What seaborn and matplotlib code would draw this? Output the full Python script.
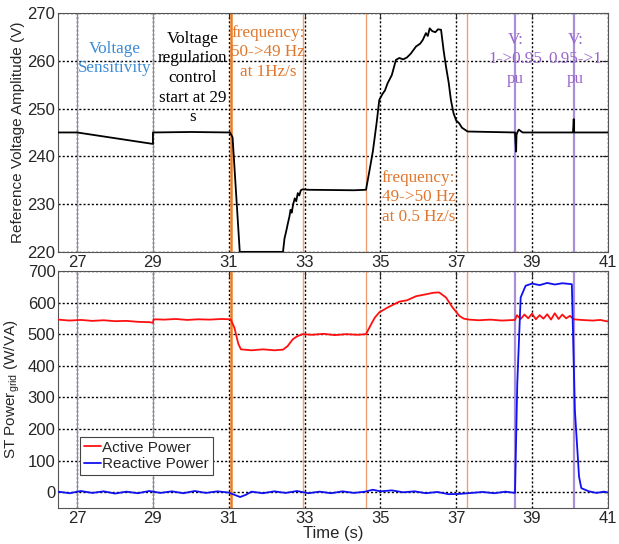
import pandas as pd
import matplotlib
matplotlib.use("Agg")
import matplotlib.pyplot as plt
import seaborn as sns

# Reference voltage amplitude (V)
volt_time = [26.5, 27.0, 28.0, 29.0, 29.0, 30.0, 31.03, 31.1, 31.29, 32.43, 32.47, 32.52, 32.56, 32.6,
             32.63, 32.66, 32.7, 32.74, 32.78, 32.82, 32.86, 32.9, 32.95, 33.1, 34.3, 34.62, 34.7, 34.8,
             34.9, 34.97, 35.05, 35.12, 35.19, 35.3, 35.41, 35.5, 35.6, 35.7, 35.8, 35.94, 36.05, 36.12,
             36.2, 36.25, 36.3, 36.37, 36.45, 36.52, 36.6, 36.67, 36.73, 36.8, 36.86, 36.93, 37.0, 37.08,
             37.15, 37.3, 38.55, 38.58, 38.59, 38.61, 38.65, 38.7, 38.75, 40.08, 40.1, 40.11, 40.13, 41.0]
volt_value = [245.0, 245.0, 243.8, 242.6, 245.0, 245.1, 245.0, 244.0, 220.0, 220.0, 222.8, 224.5, 226.0, 227.4,
              228.8, 228.2, 230.0, 231.2, 230.6, 232.3, 231.8, 232.9, 233.1, 233.0, 232.9, 233.0, 236.5, 241.0,
              247.0, 251.8, 253.0, 253.8, 255.3, 257.0, 260.2, 260.6, 260.3, 260.7, 261.5, 263.0, 263.6, 264.4,
              265.8, 265.2, 266.8, 266.2, 266.0, 266.6, 266.5, 262.0, 258.8, 255.5, 251.8, 249.0, 247.5, 246.9,
              246.0, 245.2, 245.0, 241.0, 244.5, 245.0, 245.6, 245.3, 245.0, 245.0, 247.8, 245.0, 245.0, 245.0]

# Active power (W)
p_time = [26.5, 26.8, 27.1, 27.4, 27.7, 28.0, 28.3, 28.6, 28.9, 29.0, 29.02, 29.3, 29.6, 29.9, 30.2, 30.5,
          30.8, 31.05, 31.15, 31.25, 31.32, 31.6, 31.9, 32.2, 32.43, 32.55, 32.69, 32.8, 32.95, 33.2, 33.5,
          33.8, 34.1, 34.4, 34.62, 34.75, 34.85, 34.97, 35.2, 35.5, 35.7, 35.94, 36.2, 36.4, 36.55, 36.73,
          36.9, 37.08, 37.2, 37.34, 37.6, 37.9, 38.2, 38.55, 38.6, 38.7, 38.8, 38.9, 39.0, 39.1, 39.2, 39.3,
          39.4, 39.5, 39.6, 39.7, 39.8, 39.9, 40.0, 40.1, 40.3, 40.6, 40.8, 41.0]
p_value = [546, 543, 545, 542, 544, 541, 542, 539, 538, 536, 547, 546, 548, 545, 547, 546,
           548, 547, 520, 470, 452, 449, 452, 449, 451, 462, 484, 493, 500, 498, 501,
           497, 500, 498, 500, 530, 552, 569, 585, 603, 607, 620, 626, 631, 632, 616,
           585, 558, 549, 546, 544, 546, 543, 545, 560, 548, 562, 550, 565, 547, 560, 549,
           563, 546, 566, 548, 562, 550, 558, 547, 545, 543, 545, 540]

# Reactive power (VA)
q_time = [26.5, 26.8, 27.1, 27.4, 27.7, 28.0, 28.3, 28.6, 28.9, 29.2, 29.5, 29.8, 30.1, 30.4, 30.7, 31.0,
          31.15, 31.3, 31.45, 31.6, 31.9, 32.2, 32.5, 32.8, 33.1, 33.4, 33.7, 34.0, 34.3, 34.6, 34.8,
          35.0, 35.3, 35.6, 35.9, 36.2, 36.5, 36.8, 37.1, 37.4, 37.7, 38.0, 38.3, 38.55, 38.61, 38.7,
          38.83, 39.0, 39.2, 39.4, 39.6, 39.8, 40.05, 40.13, 40.24, 40.3, 40.5, 40.7, 40.9, 41.0]
q_value = [2, -3, 4, -2, 3, -4, 2, -3, 4, -2, 3, -3, 4, -2, 3, -1,
           -8, -15, -8, 2, -3, 3, -2, 4, -3, 2, -3, 3, -2, 2, 8,
           3, 6, 0, 3, -3, 1, -6, -5, -2, 1, -3, 2, -2, 343, 616,
           653, 660, 655, 662, 657, 661, 658, 259, 49, 13, 3, -2, 2, -1]

x_ticks = [27, 29, 31, 33, 35, 37, 39, 41]
volt_ticks = [220, 230, 240, 250, 260, 270]
pow_ticks = [0, 100, 200, 300, 400, 500, 600, 700]

# event markers: (time, colour, width)
events = [(27.0, "#6f8fd2", 0.8), (29.0, "#6f8fd2", 0.8),
          (31.05, "#f07a20", 1.8), (32.97, "#f0a070", 1.0),
          (34.62, "#f0a070", 1.0), (37.28, "#f0a070", 1.0),
          (38.55, "#a890d8", 1.6), (40.1, "#a890d8", 1.6)]

sns.set_style("white")
plt.rcParams["font.family"] = ["Liberation Sans", "DejaVu Sans"]
plt.rcParams["mathtext.default"] = "regular"

volt_df = pd.DataFrame({"t": volt_time, "v": volt_value})
pow_df = pd.concat([
    pd.DataFrame({"t": p_time, "val": p_value, "kind": "Active Power"}),
    pd.DataFrame({"t": q_time, "val": q_value, "kind": "Reactive Power"}),
])

fig = plt.figure(figsize=(6.19, 5.44), dpi=100)
ax1 = fig.add_axes([0.094, 0.537, 0.888, 0.439])
ax2 = fig.add_axes([0.094, 0.066, 0.888, 0.436])

grid_kw = dict(color="black", linestyle=(0, (1.5, 1.5)), linewidth=1.0, zorder=1.2)

# top panel
sns.lineplot(data=volt_df, x="t", y="v", ax=ax1, color="black", linewidth=1.3,
             estimator=None, sort=False, zorder=3)
ax1.set_ylim(220, 270)
ax1.set_yticks(volt_ticks)
ax1.set_xlabel("")
ax1.set_ylabel("Reference Voltage Amplitude (V)", fontsize=11, labelpad=2)

serif = ["Liberation Serif", "DejaVu Serif"]
ax1.text(28.0, 260.5, "Voltage\nSensitivity", color="#3a8ad6", fontsize=12.3,
         family=serif, ha="center", va="center", linespacing=1.3)
ax1.text(30.05, 256.4, "Voltage\nregulation\ncontrol\nstart at 29\ns", color="black",
         fontsize=12.3, family=serif, ha="center", va="center", linespacing=1.3)
ax1.text(32.03, 261.8, "frequency:\n50->49 Hz\nat 1Hz/s", color="#e0762c", fontsize=12.3,
         family=serif, ha="center", va="center", linespacing=1.3)
ax1.text(35.04, 231.4, "frequency:\n49->50 Hz\nat 0.5 Hz/s", color="#e0762c", fontsize=12.3,
         family=serif, ha="left", va="center", linespacing=1.3)
ax1.text(38.57, 260.3, "V:\n1->0.95\npu", color="#9966cc", fontsize=12.3,
         family=serif, ha="center", va="center", linespacing=1.3)
ax1.text(40.15, 260.3, "V:\n0.95->1\npu", color="#9966cc", fontsize=12.3,
         family=serif, ha="center", va="center", linespacing=1.3)

# bottom panel
sns.lineplot(data=pow_df, x="t", y="val", hue="kind", ax=ax2,
             palette={"Active Power": "#ff1010", "Reactive Power": "#1010f0"},
             linewidth=1.3, estimator=None, sort=False, zorder=3)
ax2.set_ylim(-50, 700)
ax2.set_yticks(pow_ticks)
ax2.set_xlabel("Time (s)", fontsize=12, labelpad=0)
ax2.set_ylabel("ST Power$_{grid}$ (W/VA)", fontsize=11, labelpad=4)
leg = ax2.legend(loc="lower left", bbox_to_anchor=(0.04, 0.14), fontsize=11,
                 handlelength=1.1, handletextpad=0.1, borderpad=0.25, labelspacing=0.15,
                 fancybox=False, framealpha=1, borderaxespad=0)
leg.get_frame().set_edgecolor("#444444")
leg.get_frame().set_linewidth(0.8)
leg.set_zorder(5)

for ax in (ax1, ax2):
    ax.set_xlim(26.5, 41)
    ax.set_xticks(x_ticks)
    ax.tick_params(direction="in", labelsize=12, length=4, top=True, right=True, pad=2)
    ax.grid(True, **grid_kw)
    for t, c, w in events:
        ax.axvline(t, color=c, linewidth=w, zorder=1.5)
    for s in ax.spines.values():
        s.set_color("#555555")
        s.set_linewidth(0.8)

fig.savefig("out.png", dpi=100)
